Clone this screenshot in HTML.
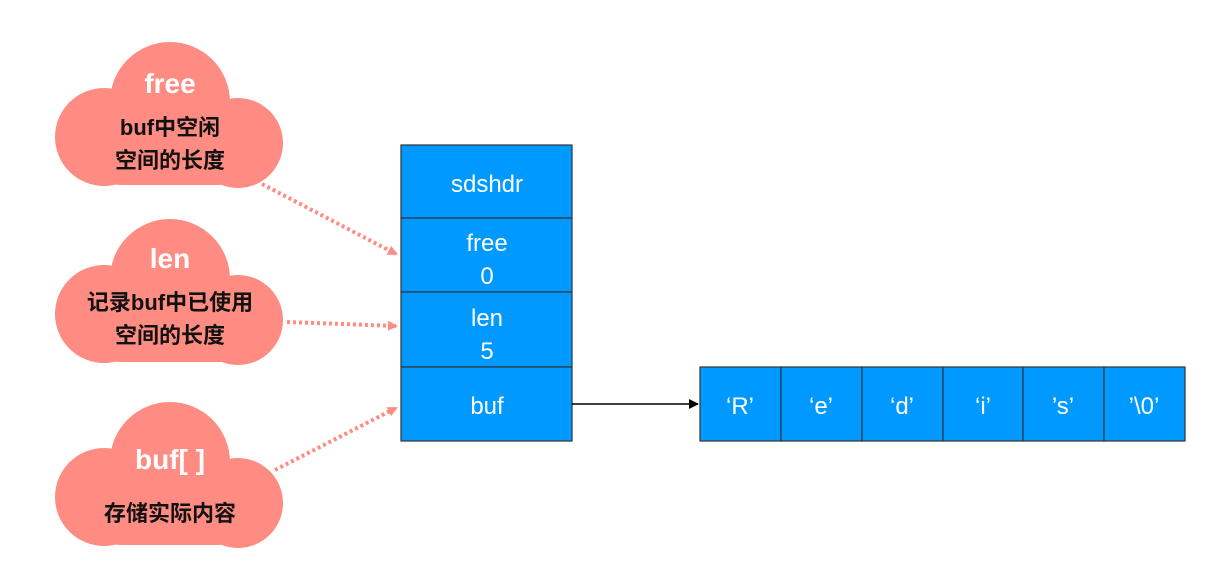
<!DOCTYPE html>
<html><head><meta charset="utf-8"><style>
html,body{margin:0;padding:0;background:#fff;}
svg{display:block;}
.t{font-family:"Liberation Sans","Noto Sans CJK SC",sans-serif;}
</style></head><body>
<svg width="1224" height="580" viewBox="0 0 1224 580">
<defs>
<g id="cloud">
<circle cx="170" cy="102" r="60" fill="#FF8C82"/>
<circle cx="104" cy="137" r="49" fill="#FF8C82"/>
<circle cx="238" cy="143" r="45" fill="#FF8C82"/>
<rect x="100" y="110" width="140" height="75" rx="20" fill="#FF8C82"/>
</g>
<marker id="ah" markerWidth="10" markerHeight="10" refX="8" refY="5" orient="auto" markerUnits="userSpaceOnUse"><path d="M0,0 L10,5 L0,10 Z" fill="#FF8C82"/></marker>
<marker id="bh" markerWidth="10" markerHeight="10" refX="9" refY="5" orient="auto" markerUnits="userSpaceOnUse"><path d="M0,0 L10,5 L0,10 Z" fill="#000"/></marker>
</defs>

<g>
<use href="#cloud"/>
<text class="t" x="170" y="93" text-anchor="middle" font-size="28" font-weight="bold" fill="#fff">free</text>
<text class="t" x="170" y="135" text-anchor="middle" font-size="22" font-weight="bold" fill="#111">buf中空闲</text>
<text class="t" x="170" y="168" text-anchor="middle" font-size="22" font-weight="bold" fill="#111">空间的长度</text>
</g>
<g transform="translate(0,177)">
<use href="#cloud"/>
<text class="t" x="170" y="91" text-anchor="middle" font-size="28" font-weight="bold" fill="#fff">len</text>
<text class="t" x="170" y="133" text-anchor="middle" font-size="22" font-weight="bold" fill="#111">记录buf中已使用</text>
<text class="t" x="170" y="166" text-anchor="middle" font-size="22" font-weight="bold" fill="#111">空间的长度</text>
</g>
<g transform="translate(0,360)">
<use href="#cloud"/>
<text class="t" x="170" y="109" text-anchor="middle" font-size="28" font-weight="bold" fill="#fff">buf[ ]</text>
<text class="t" x="170" y="161" text-anchor="middle" font-size="22" font-weight="bold" fill="#111">存储实际内容</text>
</g>

<g stroke="#FF8C82" stroke-width="4" stroke-dasharray="3,3" fill="none">
<line x1="262" y1="184" x2="396" y2="254" marker-end="url(#ah)"/>
<line x1="287" y1="322" x2="396" y2="326" marker-end="url(#ah)"/>
<line x1="275" y1="470" x2="396" y2="408" marker-end="url(#ah)"/>
</g>

<g stroke="#333" stroke-width="1.2" fill="#0099FF">
<rect x="401" y="145" width="171" height="73"/>
<rect x="401" y="218" width="171" height="74"/>
<rect x="401" y="292" width="171" height="75"/>
<rect x="401" y="367" width="171" height="74"/>
</g>
<g class="t" fill="#fff" font-size="24" text-anchor="middle">
<text x="487" y="192">sdshdr</text>
<text x="487" y="251">free</text>
<text x="487" y="284">0</text>
<text x="487" y="326">len</text>
<text x="487" y="359">5</text>
<text x="487" y="414">buf</text>
</g>

<line x1="572" y1="404" x2="698" y2="404" stroke="#000" stroke-width="1.5" marker-end="url(#bh)"/>

<g stroke="#333" stroke-width="1.2" fill="#0099FF">
<rect x="700" y="367" width="81" height="74"/>
<rect x="781" y="367" width="81" height="74"/>
<rect x="862" y="367" width="81" height="74"/>
<rect x="943" y="367" width="80" height="74"/>
<rect x="1023" y="367" width="81" height="74"/>
<rect x="1104" y="367" width="81" height="74"/>
</g>
<g class="t" fill="#fff" font-size="24" text-anchor="middle">
<text x="740" y="414">‘R’</text>
<text x="821" y="414">‘e’</text>
<text x="902" y="414">‘d’</text>
<text x="983" y="414">‘i’</text>
<text x="1063" y="414">’s’</text>
<text x="1144" y="414">’\0’</text>
</g>
</svg>
</body></html>
